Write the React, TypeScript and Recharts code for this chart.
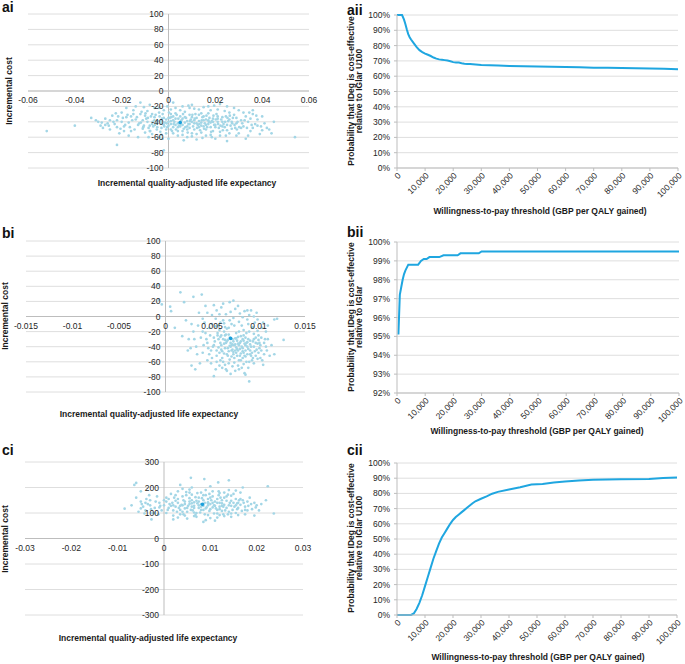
import React from 'react';
import {
  ScatterChart,
  Scatter,
  LineChart,
  Line,
  XAxis,
  YAxis,
  CartesianGrid,
  ReferenceLine,
} from 'recharts';

const FONT = '"Liberation Sans", Arial, Helvetica, sans-serif';
const DOT = '#A3D6E6';
const MEAN = '#1A9FDB';
const LINE = '#1FA6E0';
const GRID = '#DEDEDE';
const AXIS = '#BDBDBD';
const TEXT = '#262626';
const TICK_FS = 8.5;
const TITLE_FS = 8.5;

// ---------- scatter tick values ----------
const aiXTicks = [-0.06, -0.04, -0.02, 0, 0.02, 0.04, 0.06];
const aiYTicks = [-100, -80, -60, -40, -20, 0, 20, 40, 60, 80, 100];
const biXTicks = [-0.015, -0.01, -0.005, 0, 0.005, 0.01, 0.015];
const biYTicks = [-100, -80, -60, -40, -20, 0, 20, 40, 60, 80, 100];
const ciXTicks = [-0.03, -0.02, -0.01, 0, 0.01, 0.02, 0.03];
const ciYTicks = [-300, -200, -100, 0, 100, 200, 300];

// ---------- scatter clouds: [incremental QALE, incremental cost] ----------
const aiMean = [0.005, -41];
const aiPoints = [
  [-0.052, -52], [-0.04, -45], [0.054, -60], [-0.022, -70], [-0.002, -77], [0.044, -55], [0.04, -33],
  [-0.033, -35], [-0.031, -38], [-0.028, -48], [-0.026, -42], [0.036, -25], [0.033, -62], [0.025, -65],
  [0.042, -48], [0.038, -45], [0.045, -40], [0.002, -15], [0.01, -18], [0.022, -17], [0.025, -20],
  [-0.012, -15], [-0.008, -18],
  [-0.01, -32], [-0.008, -45], [-0.006, -38], [-0.005, -50], [-0.004, -28], [-0.003, -42], [-0.002, -35],
  [-0.001, -55], [0.0, -40], [0.001, -30], [0.002, -47], [0.003, -36], [0.004, -52], [0.005, -33],
  [0.006, -44], [0.007, -27], [0.008, -39], [0.009, -48], [0.01, -34], [0.011, -42], [0.012, -56],
  [0.013, -31], [0.014, -45], [0.015, -38], [0.016, -50], [0.017, -29], [0.018, -41], [0.019, -36],
  [0.02, -47], [0.021, -33], [0.022, -53], [0.023, -40], [0.024, -26], [0.025, -44], [0.026, -37],
  [0.027, -49], [0.028, -31], [0.029, -42], [0.03, -55], [0.031, -38],
  [-0.009, -40], [-0.007, -30], [-0.005, -42], [-0.003, -48], [-0.001, -37], [0.001, -43], [0.003, -29],
  [0.005, -46], [0.007, -41], [0.009, -31], [0.011, -50], [0.013, -39], [0.015, -46], [0.017, -43],
  [0.019, -52], [0.021, -40], [0.023, -34], [0.025, -51], [0.027, -40], [0.029, -35],
  [-0.004, -60], [0.0, -62], [0.004, -58], [0.008, -60], [0.012, -63], [0.016, -58], [0.02, -62],
  [-0.006, -22], [-0.002, -25], [0.003, -22], [0.006, -20], [0.011, -23], [0.015, -21], [0.018, -25],
  [0.028, -22],
  [-0.03, -40], [-0.029, -45], [-0.027, -36], [-0.025, -50], [-0.024, -32], [-0.023, -43], [-0.022, -38],
  [-0.021, -55], [-0.02, -28], [-0.019, -46], [-0.018, -34], [-0.017, -41], [-0.016, -52], [-0.015, -25],
  [-0.014, -37], [-0.013, -44], [-0.012, -30], [-0.011, -49], [-0.02, -40], [-0.017, -58], [-0.014, -20],
  [-0.013, -60], [-0.025, -38], [-0.018, -22], [-0.011, -38], [-0.016, -33], [-0.022, -47], [-0.027, -44],
  [0.032, -46], [0.033, -33], [0.034, -40], [0.035, -52], [0.036, -30], [0.037, -43], [0.038, -37],
  [0.039, -56], [0.041, -42], [0.043, -50], [0.032, -28], [0.034, -58], [0.036, -48], [0.031, -48],
  [0.03, -25], [0.04, -51], [0.035, -36],
  [0.0, -45], [0.002, -38], [0.004, -42], [0.006, -36], [0.008, -46], [0.01, -40], [0.012, -35],
  [0.014, -41], [0.016, -37], [0.018, -47], [0.006, -52], [0.002, -33], [-0.002, -44], [0.01, -55],
  [0.014, -29], [0.02, -44], [0.024, -47], [-0.006, -34], [-0.008, -52], [0.001, -50],
  [-0.0095, -36], [-0.0085, -48], [-0.0075, -33], [-0.0065, -46], [-0.0055, -31], [-0.0045, -39],
  [-0.0035, -53], [-0.0025, -30], [-0.0015, -41], [-0.0005, -47], [0.0005, -35], [0.0015, -52],
  [0.0025, -40], [0.0035, -31], [0.0045, -45], [0.0055, -38], [0.0065, -49], [0.0075, -35], [0.0085, -43],
  [0.0095, -37], [0.0105, -46], [0.0115, -30], [0.0125, -44], [0.0135, -51], [0.0145, -34], [0.0155, -42],
  [0.0165, -47], [0.0175, -35], [0.0185, -39], [0.0195, -44], [0.0205, -30], [0.0215, -48], [0.0225, -37],
  [0.0235, -43], [0.0245, -33], [0.0255, -39], [0.0265, -45], [0.0275, -35], [0.0285, -48], [0.0295, -40],
  [-0.0195, -35], [-0.0185, -44], [-0.0175, -31], [-0.0165, -47], [-0.0155, -38], [-0.0145, -50],
  [-0.0135, -34], [-0.0125, -42], [-0.0115, -27], [-0.0105, -45],
  [-0.009, -26], [-0.004, -22], [0.001, -24], [0.005, -25], [0.009, -22], [0.013, -24], [0.017, -20],
  [0.021, -24], [0.026, -28], [-0.015, -30],
  [-0.007, -56], [-0.003, -57], [0.002, -55], [0.006, -57], [0.01, -59], [0.014, -54], [0.018, -57],
  [0.022, -58], [0.026, -55], [0.029, -58], [-0.01, -54], [-0.019, -52],
  [0.0, -35], [0.003, -44], [0.007, -34], [0.011, -38], [0.015, -33], [0.019, -40], [0.023, -46],
  [-0.003, -39], [-0.007, -43], [0.005, -40], [0.009, -43], [0.013, -47], [0.017, -38], [0.021, -36],
  [0.001, -39], [0.012, -42], [0.016, -44], [0.008, -50], [0.004, -47], [-0.001, -50],
  [-0.0118, -41], [-0.0098, -29], [-0.0078, -52], [-0.0058, -44], [-0.0038, -33], [-0.0018, -46],
  [0.0002, -28], [0.0022, -43], [0.0042, -36], [0.0062, -30], [0.0082, -54], [0.0102, -31], [0.0122, -48],
  [0.0142, -38], [0.0162, -32], [0.0182, -53], [0.0202, -37], [0.0222, -45], [0.0242, -40], [0.0262, -32],
  [0.0282, -44], [0.0302, -47],
  [-0.0108, -47], [-0.0088, -35], [-0.0068, -40], [-0.0048, -47], [-0.0028, -36], [-0.0008, -42],
  [0.0012, -34], [0.0032, -50], [0.0052, -43], [0.0072, -47], [0.0092, -39], [0.0112, -36], [0.0132, -43],
  [0.0152, -49], [0.0172, -40], [0.0192, -32], [0.0212, -43], [0.0232, -51], [0.0252, -35], [0.0272, -42],
  [0.0292, -50],
  [-0.0025, -62], [0.0065, -64], [0.0145, -61], [0.0185, -60], [-0.0085, -60], [0.0245, -58],
  [-0.0005, -20], [0.0085, -19], [0.0195, -19], [-0.0105, -21],
  [0.0315, -42], [0.0335, -48], [0.0355, -44], [0.0375, -32], [0.0395, -46], [0.0325, -38], [0.0345, -28],
  [-0.0215, -33], [-0.0235, -40], [-0.0255, -45], [-0.0285, -41], [-0.0205, -49], [-0.0225, -29],
];

const biMean = [0.007, -29];
const biPoints = [
  [0.004, -20], [0.0045, -35], [0.005, -10], [0.0052, -28], [0.0055, -45], [0.0058, -18], [0.006, -38],
  [0.0062, -5], [0.0064, -25], [0.0066, -50], [0.0068, -15], [0.007, -40], [0.0072, -30], [0.0074, -55],
  [0.0076, -22], [0.0078, -45], [0.008, -35], [0.0082, -12], [0.0084, -48], [0.0086, -28], [0.0088, -40],
  [0.009, -20], [0.0092, -52], [0.0094, -33], [0.0096, -8], [0.0098, -44], [0.01, -25], [0.0102, -38],
  [0.0104, -15], [0.0106, -50],
  [0.0042, -8], [0.0047, -50], [0.0051, -40], [0.0054, -3], [0.0057, -30], [0.0061, -55], [0.0063, -20],
  [0.0065, -35], [0.0067, -42], [0.0069, -28], [0.0071, -10], [0.0073, -47], [0.0075, -37], [0.0077, -32],
  [0.0079, -58], [0.0081, -26], [0.0083, -42], [0.0085, -36], [0.0087, -60], [0.0089, -30], [0.0091, -45],
  [0.0093, -15], [0.0095, -40], [0.0097, -28], [0.0099, -56], [0.0101, -35], [0.0103, -45],
  [0.007, -35], [0.0072, -44], [0.0074, -38], [0.0076, -48], [0.0078, -27], [0.008, -52], [0.0082, -40],
  [0.0084, -32], [0.0086, -45], [0.0088, -50], [0.0066, -33], [0.0064, -42], [0.0062, -30], [0.006, -25],
  [0.0058, -48], [0.0056, -22], [0.0068, -62], [0.0078, -65], [0.0072, -66], [0.0062, -60], [0.0058, -65],
  [0.009, -60], [0.0082, -68],
  [0.0045, 5], [0.005, 2], [0.0055, 8], [0.006, 12], [0.0065, 3], [0.007, 6], [0.0075, 10], [0.008, 4],
  [0.0085, 7], [0.009, 2], [0.0052, 15], [0.0062, 17], [0.0069, 19], [0.0073, 21], [0.0088, 8], [0.0095, 0],
  [0.004, -3], [0.0035, -12], [0.0038, -28], [0.0033, -40], [0.003, -20], [0.0028, -10], [0.0025, -30],
  [0.005, -55], [0.0055, -60], [0.0045, -58], [0.004, -48], [0.0065, -70], [0.0075, -72], [0.0085, -75],
  [0.0095, -62], [0.01, -48], [0.0108, -40], [0.011, -30], [0.0112, -52], [0.0108, -20], [0.0105, -8],
  [0.011, -12],
  [0.0016, 32], [0.003, 26], [0.0039, 29], [0.0005, 13], [0.0006, 7], [0.001, -15], [0.0018, -26],
  [0.002, 19], [-0.0007, 22], [-0.0004, 16], [-0.0008, 42], [0.012, -3], [0.0117, -4], [0.0127, -31],
  [0.0117, -50], [0.0105, -64], [0.009, -86], [0.0086, -77], [0.0052, -79], [0.0032, -70], [0.0037, -62],
  [0.0028, -65], [0.0066, -72], [0.0024, -45], [0.0022, -5],
  [0.0053, -33], [0.0057, -41], [0.0059, -27], [0.0061, -46], [0.0063, -36], [0.0065, -24], [0.0067, -52],
  [0.0069, -39], [0.0071, -45], [0.0073, -33], [0.0075, -29], [0.0077, -43], [0.0079, -38], [0.0081, -49],
  [0.0083, -30], [0.0085, -52], [0.0087, -35], [0.0089, -43], [0.0091, -37], [0.0093, -48], [0.0095, -23],
  [0.0097, -35], [0.0099, -19], [0.0101, -42],
  [0.0054, -13], [0.0059, -8], [0.0064, -14], [0.0069, -5], [0.0074, -12], [0.0079, -7], [0.0084, -18],
  [0.0089, -10], [0.0094, -14], [0.0099, -4],
  [0.0048, -25], [0.0046, -42], [0.0044, -30], [0.0041, -38], [0.0049, -62], [0.0054, -70], [0.0059, -58],
  [0.0064, -64], [0.0069, -57], [0.0074, -61], [0.0079, -70], [0.0084, -63], [0.0089, -68], [0.0094, -55],
  [0.0104, -58], [0.0107, -30],
  [0.0071, -38], [0.0076, -41], [0.0081, -33], [0.0073, -50], [0.0078, -36], [0.0083, -46], [0.0068, -46],
  [0.0063, -49], [0.0086, -38], [0.0091, -32],
  [0.0036, 5], [0.0043, 14], [0.0058, 3], [0.0078, 14], [0.0083, -1], [0.0092, 8], [0.0098, 5],
  [0.0034, -50], [0.0031, -30], [0.0027, -42],
  [0.0052, -38], [0.0056, -25], [0.006, -44], [0.0064, -31], [0.0068, -24], [0.0072, -37], [0.0076, -29],
  [0.008, -43], [0.0084, -25], [0.0088, -34], [0.0092, -40], [0.0096, -46], [0.01, -31],
  [0.0055, -52], [0.0059, -35], [0.0063, -9], [0.0067, -31], [0.0071, -53], [0.0075, -45], [0.0079, -20],
  [0.0083, -55], [0.0087, -22], [0.0091, -50], [0.0095, -30], [0.0099, -36], [0.0103, -28],
  [0.0047, -15], [0.0049, -45], [0.0066, -16], [0.0077, -52], [0.0081, -58], [0.0086, -53], [0.0093, -58],
  [0.0097, -52], [0.0061, -68], [0.007, -76], [0.0088, -4], [0.0073, -2], [0.0057, -12], [0.0043, -22],
  [0.0106, -35], [0.0109, -45], [0.0102, -55], [0.0114, -38],
];

const ciMean = [0.0083, 134];
const ciPoints = [
  [0.0, 130], [0.001, 155], [0.002, 110], [0.003, 140], [0.004, 165], [0.005, 120], [0.006, 150],
  [0.007, 100], [0.008, 135], [0.009, 170], [0.01, 115], [0.011, 145], [0.012, 125], [0.013, 160],
  [0.014, 105], [0.015, 140], [0.016, 120], [0.017, 150], [0.018, 110],
  [0.0005, 100], [0.0015, 175], [0.0025, 125], [0.0035, 95], [0.0045, 145], [0.0055, 180], [0.0065, 128],
  [0.0075, 160], [0.0085, 112], [0.0095, 142], [0.0105, 185], [0.0115, 98], [0.0125, 138], [0.0135, 120],
  [0.0145, 168], [0.0155, 100], [0.0165, 132], [0.0175, 125],
  [-0.001, 140], [-0.002, 120], [-0.003, 150], [-0.004, 110], [-0.0015, 165], [-0.0025, 100],
  [-0.0035, 135], [-0.0045, 125], [-0.005, 145], [-0.0055, 105], [-0.006, 160],
  [0.004, 130], [0.006, 138], [0.008, 125], [0.01, 135], [0.012, 140], [0.005, 105], [0.007, 148],
  [0.009, 118], [0.011, 128], [0.013, 132], [0.003, 155], [0.006, 172], [0.009, 190], [0.012, 178],
  [0.007, 85], [0.01, 80], [0.005, 78], [0.013, 88], [0.003, 82], [0.016, 92], [0.0085, 65], [0.011, 70],
  [0.002, 90], [0.015, 175], [0.014, 190], [0.004, 195], [0.006, 200], [0.01, 205], [0.0195, 140],
  [0.019, 115], [0.02, 130], [0.0185, 160], [0.0205, 110], [0.021, 135], [0.0175, 95], [0.0165, 180],
  [0.001, 120], [0.0005, 145], [-0.0005, 110], [0.0075, 120], [0.0085, 150], [0.0095, 130], [0.0045, 118],
  [0.0055, 135], [0.0065, 142], [0.0115, 155], [0.0125, 108], [0.0135, 148], [0.0145, 128], [0.0155, 155],
  [-0.0064, 210], [-0.0085, 117], [-0.0027, 75], [0.0224, 205], [0.0237, 98], [0.0058, 238], [0.0087, 233],
  [0.014, 228], [0.0117, 220], [-0.005, 185], [-0.006, 218], [0.022, 150], [-0.007, 130], [0.0195, 90],
  [0.017, 200], [0.0035, 210],
  [0.0, 150], [0.0012, 135], [0.0022, 160], [0.0032, 120], [0.0042, 150], [0.0052, 128], [0.0062, 110],
  [0.0072, 138], [0.0082, 158], [0.0092, 122], [0.0102, 150], [0.0112, 118], [0.0122, 160], [0.0132, 110],
  [0.0142, 140], [0.0152, 125], [0.0162, 150], [0.0172, 140], [0.0182, 128],
  [0.0008, 112], [0.0018, 140], [0.0028, 105], [0.0038, 132], [0.0048, 170], [0.0058, 112], [0.0068, 162],
  [0.0078, 102], [0.0088, 140], [0.0098, 108], [0.0108, 130], [0.0118, 170], [0.0128, 125], [0.0138, 95],
  [0.0148, 112], [0.0158, 138], [0.0168, 108],
  [-0.0008, 128], [-0.0018, 145], [-0.0028, 115], [-0.0038, 155], [-0.0048, 135], [-0.0012, 95],
  [-0.0032, 170], [-0.0042, 98],
  [0.003, 185], [0.0055, 192], [0.008, 180], [0.0105, 165], [0.013, 180], [0.0155, 188], [0.0065, 88],
  [0.0095, 92], [0.012, 92], [0.0045, 90], [0.0145, 85], [0.002, 75], [0.009, 72], [0.0115, 82],
  [0.0075, 130], [0.0085, 128], [0.0065, 120], [0.0095, 138], [0.0105, 122], [0.0055, 145], [0.0035, 128],
  [0.0115, 140], [0.0125, 150], [0.0145, 148],
  [0.0015, 128], [0.0025, 148], [0.0035, 112], [0.0045, 135], [0.0055, 158], [0.0065, 102], [0.0075, 145],
  [0.0085, 170], [0.0095, 155], [0.0105, 140], [0.0115, 112], [0.0125, 128], [0.0135, 165], [0.0145, 98],
  [0.0155, 130], [0.0165, 155], [0.0175, 112],
  [0.0005, 160], [0.002, 130], [0.004, 105], [0.006, 125], [0.008, 112], [0.01, 160], [0.012, 115],
  [0.014, 130], [0.016, 140], [0.018, 145], [-0.001, 122], [-0.003, 130], [-0.002, 100],
  [0.0025, 170], [0.0048, 182], [0.0072, 178], [0.0098, 175], [0.0118, 185], [0.0138, 172], [0.0068, 92],
  [0.0088, 95], [0.0108, 98], [0.0128, 95], [0.0042, 95], [0.0158, 115], [0.0188, 135], [0.0198, 122],
  [-0.004, 140], [-0.005, 118],
];

// ---------- acceptability curves ----------
const wtpTicks = [0, 10000, 20000, 30000, 40000, 50000, 60000, 70000, 80000, 90000, 100000];
const pctTicks0to100 = [0, 10, 20, 30, 40, 50, 60, 70, 80, 90, 100];
const pctTicks92to100 = [92, 93, 94, 95, 96, 97, 98, 99, 100];

const aiiWtp = [
  0, 1000, 1800, 2500, 3000, 3500, 4000, 4500, 5000, 6000, 7000, 8000, 9000, 10000, 11000, 12000, 13000,
  14000, 15000, 16000, 17000, 18000, 19000, 20000, 21000, 22000, 23000, 24000, 25000, 26000, 28000, 30000,
  33000, 36000, 40000, 45000, 50000, 55000, 60000, 65000, 70000, 75000, 80000, 85000, 90000, 95000, 100000,
];
const aiiProb = [
  100, 100, 100, 97, 94, 90.5, 87.5, 85.5, 84, 81.5, 79, 77, 75.8, 74.8, 74, 73.2, 72.2,
  71.5, 71, 70.8, 70.5, 70.2, 69.8, 69.2, 69, 68.9, 68.5, 68.2, 68, 67.9, 67.6, 67.3,
  67.1, 67, 66.7, 66.5, 66.3, 66.1, 66, 65.8, 65.6, 65.5, 65.4, 65.2, 65.1, 64.8, 64.6,
];

const biiWtp = [
  500, 1000, 1500, 2000, 2500, 3000, 4000, 5000, 7500, 8500, 9500, 10500, 11500, 15000, 16500, 21500,
  22500, 29000, 30000, 100000,
];
const biiProb = [
  95.1, 97.2, 97.6, 98.0, 98.3, 98.5, 98.8, 98.8, 98.8, 99.0, 99.1, 99.1, 99.2, 99.2, 99.3, 99.3,
  99.4, 99.4, 99.5, 99.5,
];

const ciiWtp = [
  0, 2000, 4000, 5000, 6000, 7000, 8000, 9000, 10000, 11000, 12000, 13000, 14000, 15000, 16000, 17000,
  18000, 19000, 20000, 21000, 22000, 23000, 24000, 25000, 26000, 27000, 28000, 30000, 32000, 34000,
  36000, 40000, 44000, 48000, 52000, 56000, 60000, 65000, 70000, 80000, 90000, 95000, 100000,
];
const ciiProb = [
  0, 0, 0, 0, 1, 4, 8, 13, 19, 25, 31, 37, 42, 47, 51, 54,
  57, 60, 62.5, 64.5, 66, 67.5, 69, 70.5, 72, 73.5, 74.8, 76.5, 78, 79.8,
  81, 82.5, 84, 85.8, 86.2, 87.2, 87.8, 88.5, 89, 89.3, 89.5, 90.2, 90.5,
];

// ---------- text ----------
const scatterXTitle = 'Incremental quality-adjusted life expectancy';
const scatterYTitle = 'Incremental cost';
const lineXTitle = 'Willingness-to-pay threshold (GBP per QALY gained)';
const lineYTitleA = ['Probability that IDeg is cost-effective', 'relative to IGlar U100'];
const lineYTitleB = ['Probability that IDeg is cost-effective', 'relative to IGlar'];

type Box = { x: number; y: number; w: number; h: number };
type Margin = { top: number; right: number; bottom: number; left: number };

const Y_AXIS_W = 20;
const X_AXIS_H = 20;

function ScatterPanel(props: {
  box: Box;
  plot: Margin; // distances from the chart edges to the plot area
  xTicks: number[];
  yTicks: number[];
  points: number[][];
  mean: number[];
}) {
  const { box, plot, xTicks, yTicks, points, mean } = props;
  const margin = {
    top: plot.top,
    right: plot.right,
    bottom: plot.bottom - X_AXIS_H,
    left: plot.left - Y_AXIS_W,
  };
  const plotW = box.w - plot.left - plot.right;
  const plotH = box.h - plot.top - plot.bottom;
  const zeroX = plot.left + plotW / 2;
  const zeroY = plot.top + plotH / 2;
  const data = points.map(([x, y]) => ({ x, y }));
  const meanData = [{ x: mean[0], y: mean[1] }];
  const XTick = (p: any) => (
    <text
      x={p.x}
      y={zeroY + 9}
      textAnchor="middle"
      dominantBaseline="central"
      fontSize={TICK_FS}
      fontFamily={FONT}
      fill={TEXT}
    >
      {String(p.payload.value)}
    </text>
  );
  const YTick = (p: any) => (
    <text
      x={zeroX - 5}
      y={p.y}
      textAnchor="end"
      dominantBaseline="central"
      fontSize={TICK_FS}
      fontFamily={FONT}
      fill={TEXT}
    >
      {String(p.payload.value)}
    </text>
  );
  return (
    <div style={{ position: 'absolute', left: box.x, top: box.y }}>
      <ScatterChart width={box.w} height={box.h} margin={margin}>
        <CartesianGrid vertical={false} stroke={GRID} />
        <XAxis
          type="number"
          dataKey="x"
          domain={[xTicks[0], xTicks[xTicks.length - 1]]}
          ticks={xTicks}
          interval={0}
          height={X_AXIS_H}
          axisLine={false}
          tickLine={false}
          tick={<XTick />}
        />
        <YAxis
          type="number"
          dataKey="y"
          domain={[yTicks[0], yTicks[yTicks.length - 1]]}
          ticks={yTicks}
          interval={0}
          width={Y_AXIS_W}
          axisLine={false}
          tickLine={false}
          tick={<YTick />}
        />
        <ReferenceLine y={0} stroke={AXIS} />
        <ReferenceLine x={0} stroke={AXIS} />
        <Scatter
          data={data}
          isAnimationActive={false}
          shape={(p: any) => <circle cx={p.cx} cy={p.cy} r={1.35} fill={DOT} />}
        />
        <Scatter
          data={meanData}
          isAnimationActive={false}
          shape={(p: any) => <circle cx={p.cx} cy={p.cy} r={1.8} fill={MEAN} />}
        />
      </ScatterChart>
    </div>
  );
}

function LinePanel(props: {
  box: Box;
  margin: Margin;
  yAxisW: number;
  xAxisH: number;
  wtp: number[];
  prob: number[];
  yTicks: number[];
}) {
  const { box, margin, yAxisW, xAxisH, wtp, prob, yTicks } = props;
  const data = wtp.map((w, i) => ({ w, p: prob[i] }));
  return (
    <div style={{ position: 'absolute', left: box.x, top: box.y }}>
      <LineChart width={box.w} height={box.h} margin={margin} data={data}>
        <CartesianGrid vertical={false} stroke={GRID} />
        <XAxis
          type="number"
          dataKey="w"
          domain={[0, 100000]}
          ticks={wtpTicks}
          interval={0}
          angle={-45}
          textAnchor="end"
          height={xAxisH}
          tickSize={3}
          tickMargin={1}
          stroke={AXIS}
          tick={{ fontSize: TICK_FS, fill: TEXT, fontFamily: FONT }}
          tickFormatter={(v: number) => v.toLocaleString('en-US')}
        />
        <YAxis
          type="number"
          domain={[yTicks[0], yTicks[yTicks.length - 1]]}
          ticks={yTicks}
          interval={0}
          width={yAxisW}
          tickSize={3}
          tickMargin={4}
          stroke={AXIS}
          tick={{ fontSize: TICK_FS, fill: TEXT, fontFamily: FONT }}
          tickFormatter={(v: number) => `${v}%`}
        />
        <Line
          type="linear"
          dataKey="p"
          stroke={LINE}
          strokeWidth={2}
          dot={false}
          isAnimationActive={false}
        />
      </LineChart>
    </div>
  );
}

function Title(props: { x: number; y: number; lines: string[]; size?: number; rotate?: boolean }) {
  const { x, y, lines, size = TITLE_FS, rotate = false } = props;
  return (
    <div
      style={{
        position: 'absolute',
        left: x,
        top: y,
        transform: `translate(-50%, -50%)${rotate ? ' rotate(-90deg)' : ''}`,
        whiteSpace: 'nowrap',
        fontFamily: FONT,
        fontSize: size,
        fontWeight: 700,
        lineHeight: `${size - 1}px`,
        textAlign: 'center',
        color: '#1a1a1a',
      }}
    >
      {lines.map((l, i) => (
        <div key={i}>{l}</div>
      ))}
    </div>
  );
}

function PanelLabel(props: { x: number; y: number; text: string }) {
  return (
    <div
      style={{
        position: 'absolute',
        left: props.x,
        top: props.y,
        fontFamily: FONT,
        fontSize: 14,
        fontWeight: 700,
        lineHeight: '14px',
        color: '#111',
      }}
    >
      {props.text}
    </div>
  );
}

export default function App() {
  return (
    <div
      style={{
        position: 'absolute',
        left: 0,
        top: 0,
        width: 685,
        height: 664,
        background: '#fff',
        overflow: 'hidden',
      }}
    >
      {/* Row a */}
      <ScatterPanel
        box={{ x: 0, y: 0, w: 320, h: 200 }}
        plot={{ top: 14, right: 11, bottom: 32, left: 28 }}
        xTicks={aiXTicks}
        yTicks={aiYTicks}
        points={aiPoints}
        mean={aiMean}
      />
      <LinePanel
        box={{ x: 340, y: 0, w: 345, h: 210 }}
        margin={{ top: 15, right: 7, bottom: 0, left: 0 }}
        yAxisW={57}
        xAxisH={42}
        wtp={aiiWtp}
        prob={aiiProb}
        yTicks={pctTicks0to100}
      />
      {/* Row b */}
      <ScatterPanel
        box={{ x: 0, y: 220, w: 320, h: 200 }}
        plot={{ top: 21, right: 15, bottom: 28, left: 26 }}
        xTicks={biXTicks}
        yTicks={biYTicks}
        points={biPoints}
        mean={biMean}
      />
      <LinePanel
        box={{ x: 340, y: 220, w: 345, h: 210 }}
        margin={{ top: 22, right: 6, bottom: 0, left: 0 }}
        yAxisW={57}
        xAxisH={37}
        wtp={biiWtp}
        prob={biiProb}
        yTicks={pctTicks92to100}
      />
      {/* Row c */}
      <ScatterPanel
        box={{ x: 0, y: 440, w: 320, h: 200 }}
        plot={{ top: 22, right: 17, bottom: 25, left: 25 }}
        xTicks={ciXTicks}
        yTicks={ciYTicks}
        points={ciPoints}
        mean={ciMean}
      />
      <LinePanel
        box={{ x: 340, y: 440, w: 345, h: 215 }}
        margin={{ top: 23, right: 8, bottom: 0, left: 0 }}
        yAxisW={57}
        xAxisH={40}
        wtp={ciiWtp}
        prob={ciiProb}
        yTicks={pctTicks0to100}
      />

      {/* Panel labels */}
      <PanelLabel x={2} y={0} text="ai" />
      <PanelLabel x={347} y={3} text="aii" />
      <PanelLabel x={2} y={226} text="bi" />
      <PanelLabel x={347} y={225} text="bii" />
      <PanelLabel x={2} y={443} text="ci" />
      <PanelLabel x={347} y={443} text="cii" />

      {/* Scatter titles */}
      <Title x={187} y={184} lines={[scatterXTitle]} />
      <Title x={10} y={91} lines={[scatterYTitle]} rotate />
      <Title x={149} y={415} lines={[scatterXTitle]} />
      <Title x={6} y={316} lines={[scatterYTitle]} rotate />
      <Title x={148} y={639} lines={[scatterXTitle]} />
      <Title x={6} y={539} lines={[scatterYTitle]} rotate />

      {/* Line titles */}
      <Title x={540} y={212} lines={[lineXTitle]} />
      <Title x={354.5} y={91} lines={lineYTitleA} rotate />
      <Title x={537} y={432} lines={[lineXTitle]} />
      <Title x={354.5} y={317} lines={lineYTitleB} rotate />
      <Title x={538} y={658} lines={[lineXTitle]} />
      <Title x={354.5} y={538} lines={lineYTitleA} rotate />
    </div>
  );
}
